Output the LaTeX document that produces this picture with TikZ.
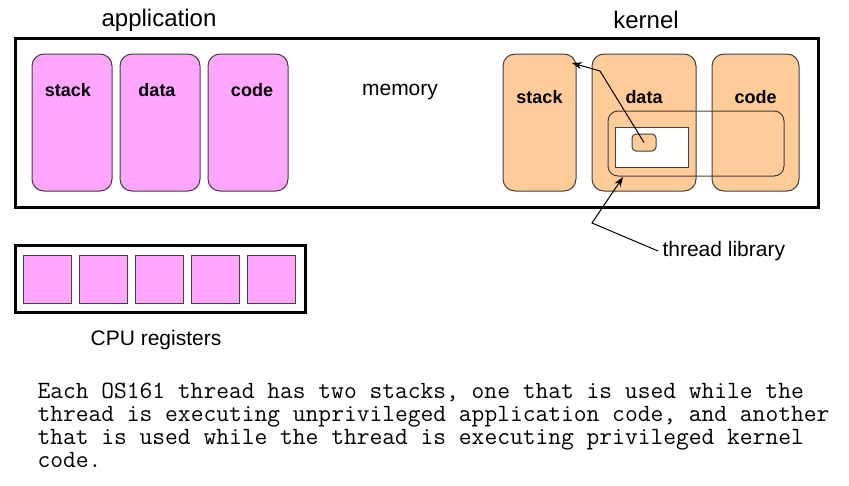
\documentclass[tikz,border=0pt]{standalone}
\usepackage{fontspec}
\setmainfont{Liberation Sans}
\usetikzlibrary{positioning,arrows.meta}
\definecolor{appfill}{RGB}{255,166,255}
\definecolor{kfill}{RGB}{255,204,153}
\tikzset{
  seg/.style={draw=black!75,rounded corners=12pt,minimum height=137pt,inner sep=0pt},
  appseg/.style={seg,fill=appfill,minimum width=80pt},
  kseg/.style={seg,fill=kfill},
  reg/.style={draw=black!75,fill=appfill,minimum size=48pt,inner sep=0pt},
  seglbl/.style={font=\fontsize{18}{20}\selectfont\bfseries,inner sep=0pt},
  bigtxt/.style={font=\fontsize{24}{28}\selectfont,inner sep=0pt},
  midtxt/.style={font=\fontsize{21}{24}\selectfont,inner sep=0pt}
}
\begin{document}
\begin{tikzpicture}[x=1pt,y=-1pt,>={Stealth[length=10pt,width=7pt]},line width=1pt]
    \useasboundingbox (0,0) rectangle (849,485);
    % memory
    \node[draw,line width=3pt,minimum width=803pt,minimum height=169pt,inner sep=0pt] (mem) at (416.5,122.5) {};
    \node[midtxt] (memlbl) at (400,92) {memory};
    \node[bigtxt] (app) at (159,20) {application};
    \node[bigtxt] (kern) at (646,20) {kernel};
    % application segments
    \foreach\n/\x/\lx/\t in {astack/72/68/stack,adata/160/157/data,acode/248/252/code}{
        \node[appseg] (\n) at (\x,122.5) {};
        \node[seglbl] (\n-l) at (\lx,90) {\t};}
    % kernel segments
    \foreach\n/\x/\w/\t in {kstack/539.5/73/stack,kdata/644/104/data,kcode/755.5/87/code}{
        \node[kseg,minimum width=\w pt] (\n) at (\x,122.5) {};
        \node[seglbl] (\n-l) at (\x,97) {\t};}
    % thread library
    \node[draw=black!75,rounded corners=10pt,minimum width=176pt,minimum height=65pt,inner sep=0pt] (tlib) at (696,143.5) {};
    \node[draw=black!75,fill=white,minimum width=73pt,minimum height=40pt,inner sep=0pt] (tlbox) at (651.5,147) {};
    \node[draw=black!75,fill=kfill,rounded corners=4pt,minimum width=24pt,minimum height=17pt,inner sep=0pt] (tlsmall) at (644,142.5) {};
    \coordinate (bend1) at (600,71);
    \coordinate (stktip) at (572,63);
    \draw[->] (tlsmall.center)--(bend1)--(stktip);
    \node[midtxt,anchor=west,inner xsep=4pt] (tllbl) at (658,251) {thread library};
    \coordinate (bend2) at (592,223);
    \coordinate (tltip) at (623,177);
    \draw[->] (tllbl.west)--(bend2)--(tltip);
    % CPU registers
    \node[draw,line width=3pt,minimum width=290pt,minimum height=67pt,inner sep=0pt] (cpu) at (160,278.5) {};
    \foreach\i in {0,...,4}\node[reg] (r\i) at (47.5+56*\i,279) {};
    \node[midtxt] (cpulbl) at (156,340) {CPU registers};
    % caption
    \node[anchor=north west,inner sep=0pt,align=left,font=\fontsize{24.8}{23}\ttfamily] (cap) at (37,383) {Each OS161 thread has two stacks, one that is used while the\\thread is executing unprivileged application code, and another\\that is used while the thread is executing privileged kernel\\code.};
\end{tikzpicture}
\end{document}
